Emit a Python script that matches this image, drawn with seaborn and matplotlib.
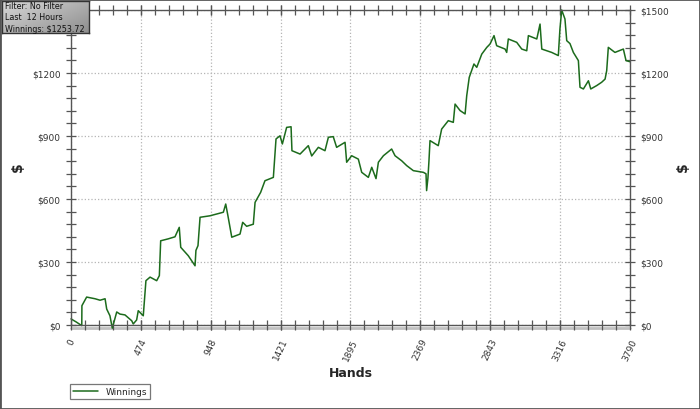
import numpy as np
import pandas as pd
import matplotlib
matplotlib.use("Agg")
import matplotlib.pyplot as plt
import seaborn as sns
from matplotlib.ticker import MultipleLocator, FixedLocator
from matplotlib.patches import Rectangle

# ---- data ----
hands = [0, 34, 73, 74, 106, 163, 197, 231, 242, 264, 280, 310, 332, 366, 412, 422,
         445, 456, 490, 508, 536, 581, 599, 608, 658, 705, 734, 744, 795, 841, 847,
         861, 875, 942, 1033, 1049, 1064, 1090, 1146, 1164, 1191, 1236, 1248, 1286,
         1315, 1372, 1390, 1417, 1433, 1462, 1492, 1498, 1553, 1609, 1632, 1677, 1722,
         1745, 1778, 1801, 1858, 1869, 1903, 1948, 1971, 2016, 2039, 2068, 2084, 2118,
         2174, 2197, 2242, 2276, 2321, 2389, 2407, 2411, 2420, 2427, 2434, 2490, 2513,
         2558, 2592, 2604, 2638, 2672, 2683, 2700, 2732, 2751, 2785, 2819, 2841, 2868,
         2886, 2943, 2954, 2965, 3022, 3056, 3090, 3101, 3158, 3180, 3192, 3259, 3304,
         3315, 3327, 3349, 3361, 3383, 3406, 3440, 3451, 3474, 3508, 3524, 3564, 3598,
         3621, 3632, 3643, 3688, 3745, 3763, 3790]
winnings = [29, 15, -3, 92, 133, 125, 118, 125, 76, 44, -15, 62, 52, 48, 20, 5,
            24, 68, 44, 211, 228, 211, 235, 401, 410, 420, 465, 370, 330, 282, 355,
            378, 513, 520, 537, 576, 520, 418, 433, 489, 470, 480, 584, 632,
            687, 703, 886, 901, 862, 941, 944, 830, 814, 854, 805, 846, 830,
            894, 897, 846, 870, 775, 806, 790, 727, 703, 751, 697, 775, 806,
            838, 806, 782, 759, 735, 727, 720, 640, 700, 782, 878, 854, 933,
            973, 965, 1052, 1021, 1005, 1092, 1179, 1243, 1227, 1290, 1322, 1338, 1378,
            1330, 1314, 1298, 1362, 1346, 1314, 1306, 1378, 1362, 1433, 1314, 1298, 1283,
            1410, 1500, 1457, 1354, 1340, 1298, 1259, 1132, 1124, 1163, 1124, 1140, 1156,
            1171, 1211, 1322, 1298, 1314, 1259, 1253.72]
x_ticks = [0, 474, 948, 1421, 1895, 2369, 2843, 3316, 3790]
y_ticks = [0, 300, 600, 900, 1200, 1500]
y_labels = ["$0", "$300", "$600", "$900", "$1200", "$1500"]
info_lines = ["Filter: No Filter", "Last  12 Hours", "Winnings: $1253.72"]

df = pd.DataFrame({"Hands": hands, "Winnings": winnings})

sns.set_style("white")
plt.rcParams["font.family"] = ["DejaVu Sans"]

fig = plt.figure(figsize=(7, 4.1), dpi=100)
ax = fig.add_axes([71/700, 84/410, 559/700, 315/410])

line_color = "#1c6b1c"
sns.lineplot(data=df, x="Hands", y="Winnings", ax=ax, color=line_color,
             linewidth=1.1, label="Winnings", clip_on=False)

ax.set_xlim(0, 3790)
ax.set_ylim(0, 1500)
ax.xaxis.set_major_locator(FixedLocator(x_ticks))
ax.xaxis.set_minor_locator(FixedLocator(np.linspace(0, 3790, 41)))
ax.yaxis.set_major_locator(FixedLocator(y_ticks))
ax.yaxis.set_minor_locator(MultipleLocator(60))
ax.set_yticklabels(y_labels)
ax.set_xticklabels([str(t) for t in x_ticks], rotation=65, ha="center", va="top")

spine_c = "#555555"
for s in ax.spines.values():
    s.set_color(spine_c)
    s.set_linewidth(1.0)

ax.tick_params(axis="both", which="both", direction="inout", length=7,
               width=0.9, color=spine_c, labelsize=6.5, labelcolor="#333333",
               top=True, right=True, left=True, bottom=True, labelright=True)
ax.tick_params(axis="x", which="both", pad=5)
ax.tick_params(axis="y", which="both", pad=4)
# left "$1500" label is hidden beneath the info box in the reference
ax.yaxis.get_major_ticks()[-1].label1.set_visible(False)

ax.grid(True, which="major", linestyle=":", color="#b5b5b5", linewidth=0.9)
ax.set_xlabel("Hands", fontsize=9, fontweight="bold", labelpad=3)
ax.set_ylabel("")

# gray band under x axis
ax.plot([0, 1], [-0.011, -0.011], transform=ax.transAxes, color="#c0c0c0",
        linewidth=2.0, clip_on=False, zorder=0)

fig.text(18/700, 1 - 167/410, "$", rotation=90, fontsize=10, fontweight="bold",
         ha="center", va="center")
fig.text(683/700, 1 - 167/410, "$", rotation=90, fontsize=10, fontweight="bold",
         ha="center", va="center")

leg = ax.legend(loc="lower left", bbox_to_anchor=(70/700, 10/410),
                bbox_transform=fig.transFigure, frameon=True, fancybox=False,
                fontsize=6.5, handlelength=2.8, borderpad=0.35,
                handletextpad=0.8, borderaxespad=0)
leg.get_frame().set_edgecolor("#555555")
leg.get_frame().set_linewidth(0.9)

# info box with gradient
ibox = fig.add_axes([2/700, 1 - 34/410, 87/700, 32/410])
grad = np.linspace(0, 1, 256)
G = np.outer(np.linspace(0.2, 1, 50), np.ones(256)) * 0.5 + np.outer(np.ones(50), grad) * 0.5
ibox.imshow(G, cmap=matplotlib.colors.LinearSegmentedColormap.from_list(
    "g", ["#d8d8d8", "#8e8e8e"]), aspect="auto", extent=[0, 1, 0, 1])
ibox.set_xticks([]); ibox.set_yticks([])
for s in ibox.spines.values():
    s.set_color("#333333"); s.set_linewidth(1)
ibox.text(0.04, 0.5, "\n".join(info_lines), fontsize=5.8, color="#111111",
          va="center", ha="left", linespacing=1.3, transform=ibox.transAxes)

fig.patches.append(Rectangle((0, 0), 1, 1, transform=fig.transFigure,
                             fill=False, edgecolor="#555555", linewidth=2))

fig.savefig("out.png", dpi=100)
